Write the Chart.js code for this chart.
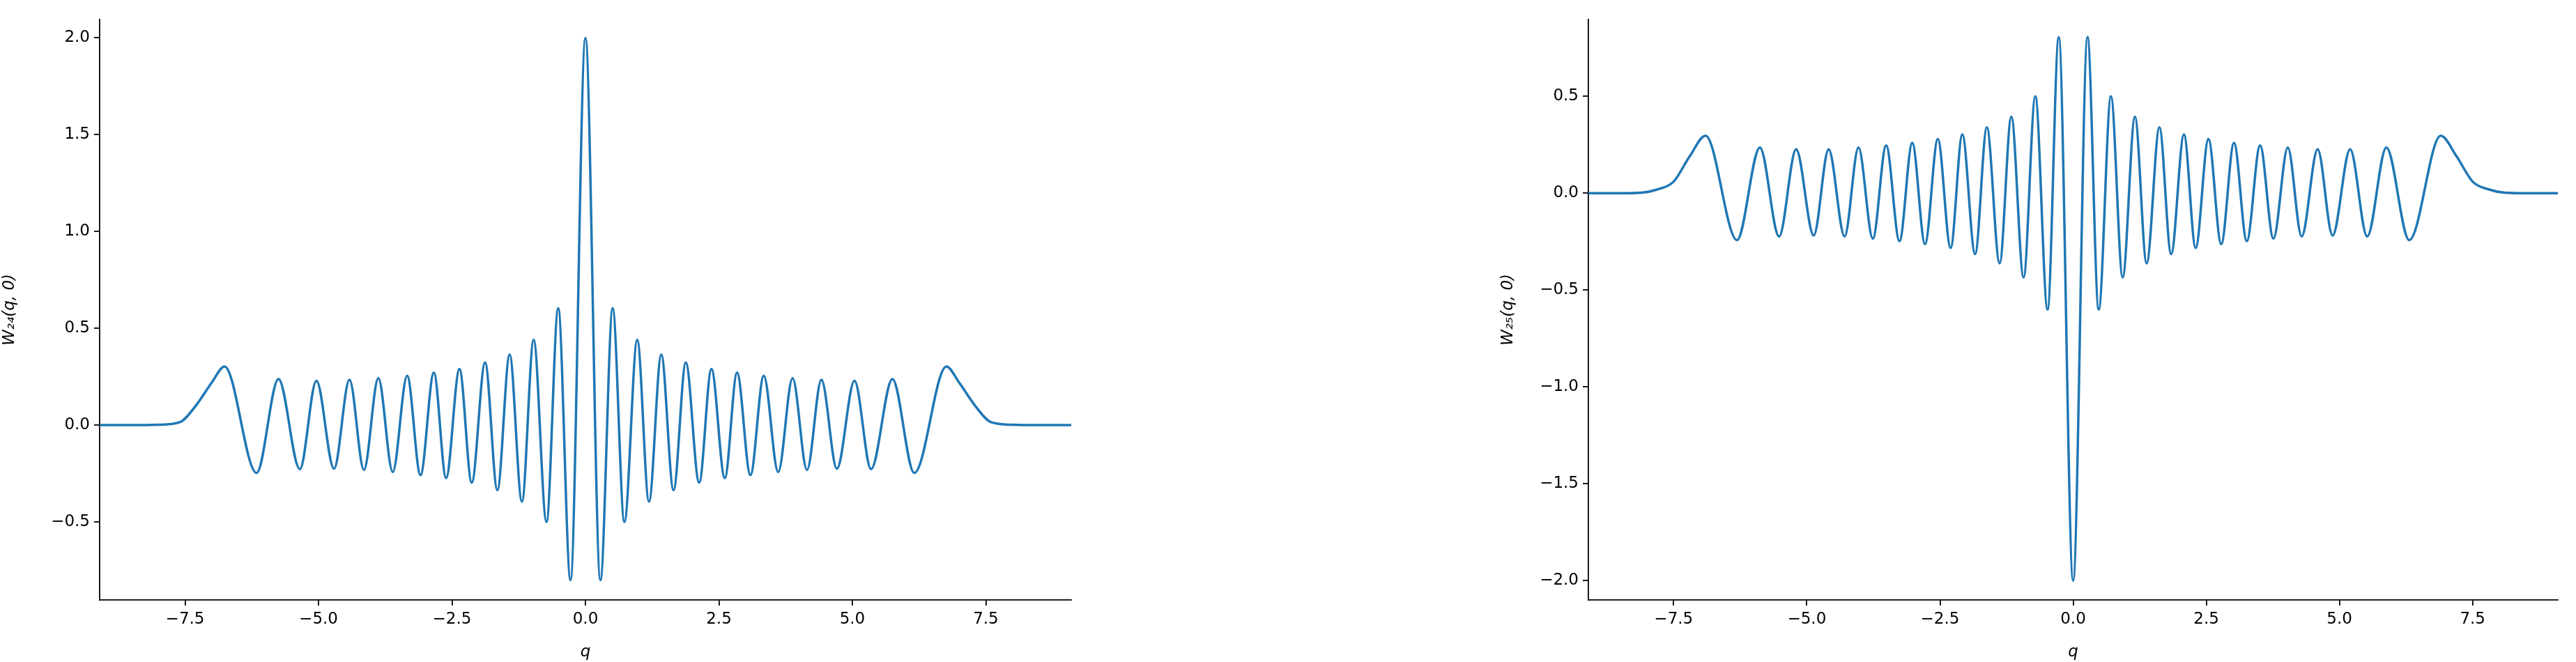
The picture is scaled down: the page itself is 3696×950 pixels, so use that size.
<!DOCTYPE html>
<html>
<head>
<meta charset="utf-8">
<script src="https://cdn.jsdelivr.net/npm/chart.js@4"></script>
<style>
  body { margin: 0; background: #fff; width: 3696px; height: 950px; position: relative; overflow: hidden; }
  .box { position: absolute; top: 0; height: 950px; }
</style>
</head>
<body>
<div class="box" style="left:0;width:1560px"><canvas id="left"></canvas></div>
<div class="box" style="left:2150px;width:1546px"><canvas id="right"></canvas></div>
<script>
// values (extrema and tail points)
const q24 = [-9.1, -8.5, -8.0, -7.6, -7.3, -7.0,
  -6.76, -6.16, -5.75, -5.35, -5.04, -4.71, -4.42, -4.15, -3.88, -3.61, -3.34, -3.09,
  -2.84, -2.61, -2.36, -2.13, -1.88, -1.65, -1.42, -1.19, -0.97, -0.73, -0.51, -0.28, 0,
  0.28, 0.51, 0.73, 0.97, 1.19, 1.42, 1.65, 1.88, 2.13, 2.36, 2.61, 2.84,
  3.09, 3.34, 3.61, 3.88, 4.15, 4.42, 4.71, 5.04, 5.35, 5.75, 6.16, 6.76,
  7.0, 7.3, 7.6, 8.0, 8.5, 9.1];
const w24 = [0, 0, 0.002, 0.015, 0.10, 0.22,
  0.303, -0.247, 0.238, -0.227, 0.229, -0.225, 0.234, -0.231, 0.242, -0.242, 0.255, -0.258,
  0.271, -0.273, 0.29, -0.297, 0.323, -0.336, 0.365, -0.395, 0.441, -0.5, 0.603, -0.80, 2.0,
  -0.80, 0.603, -0.5, 0.441, -0.395, 0.365, -0.336, 0.323, -0.297, 0.29, -0.273, 0.271,
  -0.258, 0.255, -0.242, 0.242, -0.231, 0.234, -0.225, 0.229, -0.227, 0.238, -0.247, 0.303,
  0.22, 0.10, 0.015, 0.002, 0, 0];

const q25 = [-9.1, -8.5, -8.1, -7.8, -7.5, -7.2,
  -6.90, -6.31, -5.88, -5.52, -5.20, -4.87, -4.59, -4.29, -4.03, -3.76, -3.51, -3.26,
  -3.02, -2.78, -2.54, -2.30, -2.08, -1.84, -1.62, -1.38, -1.16, -0.93, -0.71, -0.48, -0.27, 0,
  0.27, 0.48, 0.71, 0.93, 1.16, 1.38, 1.62, 1.84, 2.08, 2.30, 2.54, 2.78, 3.02,
  3.26, 3.51, 3.76, 4.03, 4.29, 4.59, 4.87, 5.20, 5.52, 5.88, 6.31, 6.90,
  7.2, 7.5, 7.8, 8.1, 8.5, 9.1];
const w25 = [0, 0, 0.003, 0.02, 0.06, 0.19,
  0.297, -0.242, 0.236, -0.223, 0.227, -0.218, 0.227, -0.223, 0.236, -0.234, 0.247, -0.247,
  0.26, -0.262, 0.28, -0.282, 0.303, -0.314, 0.34, -0.362, 0.395, -0.435, 0.5, -0.6, 0.806, -2.0,
  0.806, -0.6, 0.5, -0.435, 0.395, -0.362, 0.34, -0.314, 0.303, -0.282, 0.28, -0.262, 0.26,
  -0.247, 0.247, -0.234, 0.236, -0.223, 0.227, -0.218, 0.227, -0.223, 0.236, -0.242, 0.297,
  0.19, 0.06, 0.02, 0.003, 0, 0];

const xTicks = [-7.5, -5.0, -2.5, 0.0, 2.5, 5.0, 7.5];
const yTicks24 = [-0.5, 0.0, 0.5, 1.0, 1.5, 2.0];
const yTicks25 = [-2.0, -1.5, -1.0, -0.5, 0.0, 0.5];

const fmt = v => v.toFixed(1).replace('-', '\u2212');
const font = { family: 'DejaVu Sans', size: 23 };

function makeChart(id, qs, ws, yTicks, ymin, ymax, yLabelW, rightPad, sub) {
  const axisCommon = {
    type: 'linear',
    grid: { drawOnChartArea: false, drawTicks: true, tickLength: 8, color: '#000', lineWidth: 1.8 },
    border: { color: '#000', width: 1.8 },
    ticks: { color: '#000', font: font, callback: v => fmt(v), autoSkip: false, maxRotation: 0 }
  };
  new Chart(document.getElementById(id), {
    type: 'scatter',
    data: {
      datasets: [{
        data: qs.map((q, i) => ({ x: q, y: ws[i] })),
        showLine: true,
        borderColor: '#1f77b4',
        borderWidth: 3.5,
        pointRadius: 0,
        cubicInterpolationMode: 'monotone'
      }]
    },
    options: {
      responsive: true,
      maintainAspectRatio: false,
      animation: false,
      layout: { padding: { top: 28, right: rightPad, left: 0, bottom: 0 } },
      plugins: { legend: { display: false }, tooltip: { enabled: false } },
      scales: {
        x: Object.assign({}, axisCommon, {
          min: -9.1, max: 9.1,
          ticks: Object.assign({}, axisCommon.ticks, { padding: 6 }),
          title: { display: true, text: 'q', color: '#000', padding: { top: 0, bottom: 0 },
                   font: { family: 'DejaVu Sans', size: 23, style: 'italic' } },
          afterBuildTicks: s => { s.ticks = xTicks.map(v => ({ value: v })); },
          afterFit: s => { s.height = 89; }
        }),
        y: Object.assign({}, axisCommon, {
          min: ymin, max: ymax,
          ticks: Object.assign({}, axisCommon.ticks, { padding: 6 }),
          title: { display: true, text: 'W' + sub + '(q, 0)', color: '#000', padding: 0,
                   font: { family: 'DejaVu Sans', size: 23, style: 'italic' } },
          afterBuildTicks: s => { s.ticks = yTicks.map(v => ({ value: v })); },
          afterFit: s => { s.width = yLabelW; }
        })
      }
    }
  });
}

makeChart('left', q24, w24, yTicks24, -0.903, 2.095, 143, 23, '\u2082\u2084');
makeChart('right', q25, w25, yTicks25, -2.10, 0.897, 129, 26, '\u2082\u2085');
</script>
</body>
</html>
